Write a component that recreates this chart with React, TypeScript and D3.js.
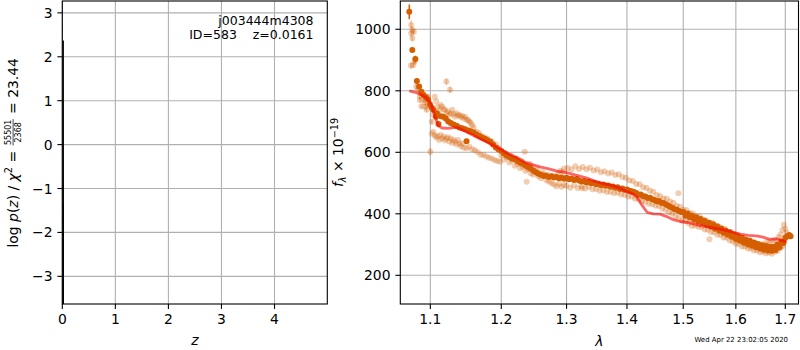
import React from 'react';
import * as d3 from 'd3';

// ---------------- data ----------------
const zTicks = [0, 1, 2, 3, 4];
const logpTicks = [-3, -2, -1, 0, 1, 2, 3];
const zGrid = [0.0, 0.0161, 0.0322];
const logPz = [-40, 2.37, -40];

const waveTicks = [1.1, 1.2, 1.3, 1.4, 1.5, 1.6, 1.7];
const fluxTicks = [200, 400, 600, 800, 1000];

const objName = 'j003444m4308';
const objInfo = 'ID=583    z=0.0161';
const stamp = 'Wed Apr 22 23:02:05 2020';

// model (red line)
const modelWave = [1.072, 1.080, 1.088, 1.094, 1.099, 1.103, 1.107, 1.111, 1.116, 1.124, 1.132, 1.138, 1.146, 1.155, 1.164, 1.172, 1.184, 1.198, 1.210, 1.218, 1.226, 1.236, 1.248, 1.260, 1.272, 1.285, 1.300, 1.315, 1.330, 1.345, 1.358, 1.372, 1.388, 1.400, 1.410, 1.418, 1.426, 1.435, 1.446, 1.458, 1.470, 1.482, 1.494, 1.510, 1.530, 1.550, 1.570, 1.590, 1.608, 1.625, 1.640, 1.652, 1.662, 1.669, 1.676, 1.684, 1.693, 1.703];
const modelFlux = [800, 795, 786, 779, 765, 742, 712, 686, 679, 678, 680, 680, 671, 660, 650, 641, 628, 611, 596, 588, 580, 567, 559, 552, 546, 539, 534, 526, 518, 507, 499, 493, 483, 472, 465, 452, 428, 405, 400, 399, 391, 381, 375, 371, 362, 356, 350, 342, 334, 330, 328, 325, 320, 317, 318, 318, 313, 309];

// combined spectrum (dark points)
const darkWave = [1.072, 1.076, 1.080, 1.082, 1.085, 1.088, 1.091, 1.094, 1.097, 1.0996, 1.102, 1.104, 1.1075, 1.109, 1.111, 1.1145, 1.1175, 1.121, 1.1245, 1.128, 1.132, 1.136, 1.140, 1.144, 1.148, 1.150, 1.153, 1.156, 1.160, 1.164, 1.168, 1.172, 1.176, 1.180, 1.184, 1.188, 1.192, 1.196, 1.200, 1.204, 1.208, 1.212, 1.216, 1.220, 1.224, 1.228, 1.232, 1.236, 1.240, 1.244, 1.248, 1.252, 1.256, 1.260, 1.264, 1.268, 1.272, 1.276, 1.280, 1.284, 1.288, 1.292, 1.296, 1.300, 1.304, 1.308, 1.312, 1.316, 1.320, 1.324, 1.328, 1.332, 1.336, 1.340, 1.344, 1.348, 1.352, 1.356, 1.360, 1.364, 1.368, 1.372, 1.376, 1.380, 1.384, 1.388, 1.392, 1.396, 1.400, 1.404, 1.408, 1.412, 1.416, 1.420, 1.424, 1.428, 1.432, 1.436, 1.440, 1.444, 1.448, 1.452, 1.456, 1.460, 1.464, 1.468, 1.472, 1.476, 1.480, 1.484, 1.488, 1.492, 1.496, 1.500, 1.504, 1.508, 1.512, 1.516, 1.520, 1.524, 1.528, 1.532, 1.536, 1.540, 1.544, 1.548, 1.552, 1.556, 1.560, 1.564, 1.568, 1.572, 1.576, 1.580, 1.584, 1.588, 1.592, 1.596, 1.600, 1.604, 1.608, 1.612, 1.616, 1.620, 1.624, 1.628, 1.632, 1.636, 1.640, 1.644, 1.648, 1.652, 1.656, 1.660, 1.664, 1.668, 1.672, 1.676, 1.680, 1.684, 1.688, 1.692, 1.696, 1.700, 1.704, 1.708, 1.711];
const darkFlux = [1057, 933, 903, 832, 814, 797, 786, 779, 772, 755, 745, 738, 716, 727, 692, 717, 716, 710, 700, 695, 690, 686, 681, 678, 675, 636, 671, 668, 664, 658, 653, 648, 644, 639, 634, 625, 616, 609, 604, 596, 590, 585, 580, 577, 572, 566, 563, 557, 552, 547, 541, 535, 530, 527, 523, 524, 520, 522, 518, 520, 516, 518, 514, 517, 512, 515, 510, 513, 508, 505, 507, 502, 504, 499, 501, 496, 497, 493, 495, 491, 492, 488, 489, 485, 486, 481, 482, 478, 479, 475, 473, 471, 468, 462, 463, 457, 456, 451, 452, 447, 445, 441, 442, 436, 435, 431, 427, 423, 420, 415, 413, 409, 406, 406, 394, 401, 388, 394, 381, 389, 376, 383, 371, 377, 364, 371, 358, 366, 351, 359, 345, 352, 338, 346, 332, 340, 325, 333, 318, 327, 312, 321, 306, 316, 300, 312, 296, 307, 291, 302, 287, 298, 283, 295, 281, 293, 280, 293, 282, 300, 291, 310, 305, 322, 327, 331, 327];
const darkErr = [24, 9, 11, 9, 7, 6, 6, 6, 6, 6, 6, 6, 6, 6, 6, 5, 5, 5, 5, 5, 5, 5, 5, 5, 5, 5, 5, 5, 5, 5, 5, 5, 5, 5, 5, 5, 5, 5, 5, 5, 5, 5, 5, 5, 5, 5, 5, 5, 5, 5, 5, 5, 5, 5, 5, 5, 5, 5, 5, 5, 5, 5, 5, 5, 5, 5, 5, 5, 5, 5, 5, 5, 5, 5, 5, 5, 5, 5, 5, 5, 5, 5, 5, 5, 5, 5, 5, 5, 5, 5, 5, 5, 5, 5, 5, 5, 5, 5, 5, 5, 5, 5, 5, 5, 5, 5, 5, 5, 5, 5, 5, 5, 5, 5, 5, 5, 5, 5, 5, 5, 5, 5, 5, 5, 5, 5, 5, 5, 5, 5, 5, 5, 5, 5, 5, 5, 5, 5, 5, 5, 5, 5, 5, 5, 5, 5, 5, 5, 5, 5, 5, 5, 5, 5, 5, 5, 5, 5, 5, 5, 5, 5, 5, 5, 5, 5];

// individual beams (light points) with visible error bars
const lightErrWave = [1.0745, 1.076, 1.0745, 1.078, 1.076, 1.0775, 1.079, 1.074, 1.081, 1.084, 1.086, 1.088, 1.086, 1.091, 1.088, 1.093, 1.095, 1.093, 1.097, 1.097, 1.099, 1.102, 1.100, 1.122, 1.127];
const lightErrFlux = [1014, 998, 987, 992, 971, 884, 895, 882, 813, 803, 781, 792, 770, 770, 750, 748, 738, 762, 754, 781, 760, 699, 602, 830, 803];
const lightErrErr = [15, 12, 10, 10, 10, 10, 10, 10, 8, 8, 8, 8, 8, 8, 8, 8, 8, 8, 8, 8, 8, 8, 12, 10, 10];

// individual beams, blue end (1.10-1.20): upper and lower traces
const lightUpperBlueWave = [1.104, 1.106, 1.108, 1.110, 1.112, 1.114, 1.116, 1.118, 1.120, 1.122, 1.124, 1.126, 1.128, 1.130, 1.132, 1.134, 1.136, 1.138, 1.140, 1.142, 1.144, 1.146, 1.148, 1.150, 1.152, 1.154, 1.156, 1.158, 1.160, 1.164, 1.168, 1.172, 1.176, 1.180, 1.186, 1.192, 1.196];
const lightUpperBlueFlux = [722, 781, 766, 748, 736, 754, 748, 740, 738, 727, 733, 722, 727, 738, 724, 716, 727, 720, 721, 714, 718, 710, 716, 706, 705, 700, 695, 688, 680, 667, 662, 652, 648, 644, 636, 625, 615];
const lightLowerBlueWave = [1.102, 1.104, 1.106, 1.108, 1.110, 1.112, 1.114, 1.116, 1.118, 1.120, 1.122, 1.124, 1.126, 1.128, 1.130, 1.132, 1.134, 1.136, 1.138, 1.140, 1.142, 1.144, 1.146, 1.150, 1.154, 1.158, 1.162, 1.166, 1.170, 1.174, 1.178, 1.182, 1.186, 1.190, 1.194, 1.198];
const lightLowerBlueFlux = [660, 667, 655, 648, 653, 640, 656, 645, 651, 638, 645, 649, 635, 645, 630, 640, 634, 625, 640, 629, 620, 629, 615, 613, 618, 610, 607, 600, 592, 591, 586, 582, 580, 575, 572, 569];

// 1.20-1.30 scatter
const lightMidWave = [1.200, 1.204, 1.206, 1.208, 1.212, 1.214, 1.216, 1.220, 1.222, 1.224, 1.228, 1.230, 1.232, 1.235, 1.236, 1.238, 1.240, 1.242, 1.244, 1.246, 1.248, 1.252, 1.254, 1.256, 1.260, 1.262, 1.264, 1.268, 1.270, 1.272, 1.276, 1.278, 1.280, 1.284, 1.286, 1.288, 1.292, 1.294, 1.296, 1.325, 1.491, 1.549];
const lightMidFlux = [590, 576, 598, 583, 567, 590, 573, 556, 581, 562, 548, 572, 553, 602, 540, 504, 545, 563, 532, 553, 527, 537, 545, 522, 516, 535, 528, 510, 528, 505, 500, 524, 495, 490, 529, 498, 488, 537, 494, 483, 467, 317];

// red end (1.29-1.70): upper and lower traces
const lightUpperRedWave = [1.290, 1.296, 1.302, 1.308, 1.314, 1.320, 1.326, 1.332, 1.338, 1.344, 1.350, 1.356, 1.362, 1.368, 1.374, 1.380, 1.386, 1.392, 1.398, 1.404, 1.410, 1.416, 1.422, 1.428, 1.434, 1.440, 1.446, 1.452, 1.458, 1.464, 1.470, 1.476, 1.482, 1.488, 1.494, 1.500, 1.506, 1.512, 1.518, 1.524, 1.530, 1.536, 1.542, 1.548, 1.554, 1.560, 1.566, 1.572, 1.578, 1.584, 1.590, 1.596, 1.602, 1.608, 1.614, 1.620, 1.626, 1.632, 1.638, 1.644, 1.650, 1.656, 1.662, 1.668, 1.674, 1.680, 1.686, 1.690, 1.694, 1.697, 1.700, 1.703];
const lightUpperRedFlux = [540, 547, 549, 544, 555, 546, 552, 545, 550, 541, 544, 535, 538, 531, 534, 526, 529, 520, 517, 508, 507, 497, 496, 486, 484, 475, 472, 461, 458, 450, 449, 440, 436, 425, 423, 413, 412, 403, 401, 392, 391, 382, 380, 372, 371, 362, 360, 352, 351, 342, 341, 332, 332, 323, 322, 313, 313, 305, 306, 299, 302, 300, 308, 307, 313, 312, 324, 333, 347, 364, 351, 338];
const lightLowerRedWave = [1.300, 1.306, 1.312, 1.318, 1.324, 1.330, 1.336, 1.342, 1.348, 1.354, 1.360, 1.366, 1.372, 1.378, 1.384, 1.390, 1.396, 1.402, 1.408, 1.414, 1.420, 1.426, 1.432, 1.438, 1.444, 1.450, 1.456, 1.462, 1.468, 1.474, 1.480, 1.486, 1.492, 1.498, 1.504, 1.510, 1.516, 1.522, 1.528, 1.534, 1.540, 1.546, 1.552, 1.558, 1.564, 1.570, 1.576, 1.582, 1.588, 1.594, 1.600, 1.606, 1.612, 1.618, 1.624, 1.630, 1.636, 1.642, 1.648, 1.654, 1.660, 1.666, 1.672, 1.678, 1.684, 1.690, 1.695];
const lightLowerRedFlux = [491, 485, 493, 484, 490, 482, 488, 480, 481, 475, 477, 471, 472, 467, 469, 463, 462, 456, 456, 449, 448, 441, 439, 433, 432, 426, 425, 417, 413, 405, 401, 391, 387, 378, 377, 369, 360, 363, 358, 357, 349, 348, 341, 340, 332, 331, 323, 322, 313, 311, 303, 302, 294, 294, 287, 287, 281, 281, 275, 277, 271, 274, 270, 277, 279, 289, 295];

// ---------------- drawing ----------------
const FONT = "'DejaVu Sans', sans-serif";
const ORANGE = '#d55e00';
const GRID = '#b0b0b0';
const FS = 13.9;
const TICK = 4.9;

const LP = { x0: 62.3, x1: 327.3, y0: 1, y1: 304 };
const RP = { x0: 400.3, x1: 798.5, y0: 1, y1: 304 };

const fmtMinus = (v: number) => (v < 0 ? '\u2212' + Math.abs(v) : String(v));

export default function App() {
  const zx = d3.scaleLinear().domain([0, 4.995]).range([LP.x0, LP.x1]);
  const ly = d3.scaleLinear().domain([-3.63, 3.27]).range([LP.y1, LP.y0]);
  const wx = d3.scaleLog().domain([1.06024, 1.72776]).range([RP.x0, RP.x1]);
  const fy = d3.scaleLinear().domain([106.7, 1092]).range([RP.y1, RP.y0]);

  const pzPath = d3.line<number>().x((_, i) => zx(zGrid[i])).y((d) => ly(d))(logPz) || '';
  const modelPath = d3.line<number>().x((_, i) => wx(modelWave[i])).y((d) => fy(d))(modelFlux) || '';

  const lightBands: [number[], number[]][] = [
    [lightUpperBlueWave, lightUpperBlueFlux],
    [lightLowerBlueWave, lightLowerBlueFlux],
    [lightMidWave, lightMidFlux],
    [lightUpperRedWave, lightUpperRedFlux],
    [lightLowerRedWave, lightLowerRedFlux],
  ];

  // left y-label layout (local coords along the rotated text)
  const fracC = 115.2;
  const fracHalf = 13.2;

  return (
    <svg width={800} height={350} viewBox="0 0 800 350"
      style={{ position: 'absolute', left: 0, top: 0, background: '#fff' }}
      fontFamily={FONT}>
      <defs>
        <clipPath id="clipL"><rect x={LP.x0} y={LP.y0} width={LP.x1 - LP.x0} height={LP.y1 - LP.y0} /></clipPath>
        <clipPath id="clipR"><rect x={RP.x0} y={RP.y0} width={RP.x1 - RP.x0} height={RP.y1 - RP.y0} /></clipPath>
      </defs>
      <rect x={0} y={0} width={800} height={350} fill="#fff" />

      {/* ---------- left panel ---------- */}
      <g>
        {zTicks.map((t) => (
          <line key={'gzx' + t} x1={zx(t)} x2={zx(t)} y1={LP.y0} y2={LP.y1} stroke={GRID} strokeWidth={1.1} />
        ))}
        {logpTicks.map((t) => (
          <line key={'gly' + t} x1={LP.x0} x2={LP.x1} y1={ly(t)} y2={ly(t)} stroke={GRID} strokeWidth={1.1} />
        ))}
        <g clipPath="url(#clipL)">
          <path d={pzPath} fill="none" stroke="#000" strokeWidth={1.5} />
        </g>
        <text x={313.5} y={24.7} fontSize={12.5} textAnchor="end" fill="#000">{objName}</text>
        <text x={313.5} y={39.2} fontSize={12.5} textAnchor="end" fill="#000" style={{ whiteSpace: 'pre' }}>{objInfo}</text>
        <rect x={LP.x0} y={LP.y0} width={LP.x1 - LP.x0} height={LP.y1 - LP.y0} fill="none" stroke="#000" strokeWidth={1.1} />
        {zTicks.map((t) => (
          <g key={'tzx' + t}>
            <line x1={zx(t)} x2={zx(t)} y1={LP.y1} y2={LP.y1 + TICK} stroke="#000" strokeWidth={1.1} />
            <text x={zx(t)} y={323.9} fontSize={FS} textAnchor="middle">{t}</text>
          </g>
        ))}
        {logpTicks.map((t) => (
          <g key={'tly' + t}>
            <line x1={LP.x0 - TICK} x2={LP.x0} y1={ly(t)} y2={ly(t)} stroke="#000" strokeWidth={1.1} />
            <text x={LP.x0 - 2 * TICK} y={ly(t) + 5.05} fontSize={FS} textAnchor="end">{fmtMinus(t)}</text>
          </g>
        ))}
        <text x={(LP.x0 + LP.x1) / 2} y={345} fontSize={FS} textAnchor="middle" fontStyle="italic">z</text>
        <g transform="translate(17.5,247.5) rotate(-90)">
          <text x={0} y={0} fontSize={FS} style={{ whiteSpace: 'pre' }}>
            <tspan>log </tspan>
            <tspan fontStyle="italic">p</tspan>
            <tspan>(</tspan>
            <tspan fontStyle="italic">z</tspan>
            <tspan>) / </tspan>
            <tspan fontStyle="italic">χ</tspan>
            <tspan fontSize={9.7} dy={-5.2}>2</tspan>
            <tspan dy={5.2}> = </tspan>
          </text>
          <text x={fracC} y={-6.5} fontSize={8} textAnchor="middle">55501</text>
          <line x1={fracC - fracHalf} x2={fracC + fracHalf} y1={-4.4} y2={-4.4} stroke="#000" strokeWidth={0.7} />
          <text x={fracC} y={3.6} fontSize={8} textAnchor="middle">2368</text>
          <text x={fracC + fracHalf + 0.8} y={0} fontSize={FS} style={{ whiteSpace: 'pre' }}> = 23.44</text>
        </g>
      </g>

      {/* ---------- right panel ---------- */}
      <g>
        {waveTicks.map((t) => (
          <line key={'gwx' + t} x1={wx(t)} x2={wx(t)} y1={RP.y0} y2={RP.y1} stroke={GRID} strokeWidth={1.1} />
        ))}
        {fluxTicks.map((t) => (
          <line key={'gfy' + t} x1={RP.x0} x2={RP.x1} y1={fy(t)} y2={fy(t)} stroke={GRID} strokeWidth={1.1} />
        ))}
        <g clipPath="url(#clipR)">
          {/* individual beams */}
          {lightErrWave.map((w, i) => (
            <g key={'le' + i}>
              <line x1={wx(w)} x2={wx(w)} y1={fy(lightErrFlux[i] - lightErrErr[i])} y2={fy(lightErrFlux[i] + lightErrErr[i])}
                stroke={ORANGE} strokeOpacity={0.3} strokeWidth={1.6} />
              <circle cx={wx(w)} cy={fy(lightErrFlux[i])} r={3} fill={ORANGE} fillOpacity={0.3} />
            </g>
          ))}
          {lightBands.map(([ws, fs], b) =>
            ws.map((w, i) => (
              <circle key={'lb' + b + '_' + i} cx={wx(w)} cy={fy(fs[i])} r={3} fill={ORANGE} fillOpacity={0.3} />
            ))
          )}
          {/* combined spectrum */}
          {darkWave.map((w, i) => (
            <g key={'d' + i}>
              <line x1={wx(w)} x2={wx(w)} y1={fy(darkFlux[i] - darkErr[i])} y2={fy(darkFlux[i] + darkErr[i])}
                stroke={ORANGE} strokeWidth={1.6} />
              <circle cx={wx(w)} cy={fy(darkFlux[i])} r={3} fill={ORANGE} />
            </g>
          ))}
          {/* model */}
          <path d={modelPath} fill="none" stroke="#ff0000" strokeOpacity={0.6} strokeWidth={2.8} strokeLinejoin="round" />
        </g>
        <rect x={RP.x0} y={RP.y0} width={RP.x1 - RP.x0} height={RP.y1 - RP.y0} fill="none" stroke="#000" strokeWidth={1.1} />
        {waveTicks.map((t) => (
          <g key={'twx' + t}>
            <line x1={wx(t)} x2={wx(t)} y1={RP.y1} y2={RP.y1 + TICK} stroke="#000" strokeWidth={1.1} />
            <text x={wx(t)} y={323.9} fontSize={FS} textAnchor="middle">{t.toFixed(1)}</text>
          </g>
        ))}
        {fluxTicks.map((t) => (
          <g key={'tfy' + t}>
            <line x1={RP.x0 - TICK} x2={RP.x0} y1={fy(t)} y2={fy(t)} stroke="#000" strokeWidth={1.1} />
            <text x={RP.x0 - 2 * TICK} y={fy(t) + 5.05} fontSize={FS} textAnchor="end">{t}</text>
          </g>
        ))}
        <text x={(RP.x0 + RP.x1) / 2} y={346} fontSize={FS} textAnchor="middle" fontStyle="italic">λ</text>
        <g transform={`translate(343,${(RP.y0 + RP.y1) / 2}) rotate(-90)`}>
          <text x={0} y={0} fontSize={FS} textAnchor="middle" style={{ whiteSpace: 'pre' }}>
            <tspan fontStyle="italic">f</tspan>
            <tspan fontStyle="italic" fontSize={9.7} dy={3}>λ</tspan>
            <tspan dy={-3}> × 10</tspan>
            <tspan fontSize={9.7} dy={-5.5}>−19</tspan>
          </text>
        </g>
      </g>

      <text x={788} y={341.7} fontSize={6.94} textAnchor="end">{stamp}</text>
    </svg>
  );
}
